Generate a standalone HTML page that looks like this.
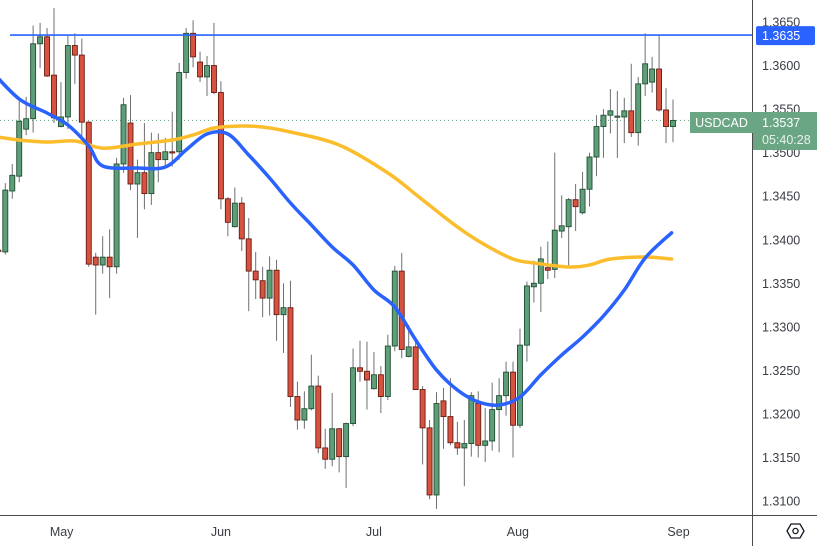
<!DOCTYPE html>
<html><head><meta charset="utf-8"><style>
html,body{margin:0;padding:0;background:#fff;}
svg{display:block;font-family:"Liberation Sans",sans-serif;}
</style></head><body>
<svg id="chart" width="817" height="546" viewBox="0 0 817 546" xmlns="http://www.w3.org/2000/svg">
<g id="plot"></g>
<g id="axes"></g>
</svg>
<script>
const opens=[1.3388,1.3386,1.3456,1.3473,1.3527,1.3539,1.3625,1.3633,1.3589,1.3530,1.3541,1.3623,1.3612,1.3535,1.3380,1.3371,1.3380,1.3369,1.3487,1.3534,1.3464,1.3477,1.3453,1.3500,1.3492,1.3501,1.3501,1.3592,1.3637,1.3604,1.3587,1.3600,1.3569,1.3447,1.3415,1.3442,1.3401,1.3364,1.3353,1.3333,1.3365,1.3314,1.3322,1.3220,1.3193,1.3206,1.3232,1.3161,1.3148,1.3183,1.3151,1.3189,1.3253,1.3249,1.3229,1.3245,1.3220,1.3278,1.3364,1.3266,1.3277,1.3228,1.3184,1.3107,1.3215,1.3197,1.3167,1.3161,1.3166,1.3212,1.3164,1.3169,1.3205,1.3221,1.3248,1.3187,1.3279,1.3346,1.3350,1.3368,1.3366,1.3410,1.3415,1.3446,1.3431,1.3458,1.3495,1.3530,1.3543,1.3541,1.3541,1.3548,1.3523,1.3579,1.3581,1.3596,1.3549,1.3530];
const highs=[1.3391,1.3465,1.3487,1.3563,1.3564,1.3646,1.3649,1.3643,1.3666,1.3581,1.3635,1.3637,1.3631,1.3536,1.3385,1.3404,1.3412,1.3494,1.3563,1.3566,1.3492,1.3534,1.3523,1.3522,1.3517,1.3547,1.3603,1.3643,1.3652,1.3616,1.3611,1.3649,1.3582,1.3449,1.3460,1.3449,1.3425,1.3386,1.3369,1.3381,1.3377,1.3350,1.3353,1.3237,1.3226,1.3268,1.3244,1.3183,1.3224,1.3184,1.3190,1.3275,1.3284,1.3283,1.3271,1.3255,1.3291,1.3370,1.3385,1.3302,1.3287,1.3232,1.3193,1.3225,1.3230,1.3241,1.3191,1.3193,1.3225,1.3226,1.3207,1.3236,1.3241,1.3260,1.3260,1.3298,1.3352,1.3376,1.3392,1.3398,1.3500,1.3451,1.3448,1.3464,1.3478,1.3500,1.3543,1.3550,1.3573,1.3571,1.3563,1.3602,1.3587,1.3637,1.3610,1.3635,1.3574,1.3561];
const lows=[1.3385,1.3383,1.3447,1.3466,1.3520,1.3523,1.3597,1.3587,1.3534,1.3529,1.3527,1.3579,1.3518,1.3369,1.3314,1.3361,1.3333,1.3361,1.3477,1.3457,1.3402,1.3435,1.3440,1.3466,1.3482,1.3484,1.3492,1.3585,1.3598,1.3581,1.3565,1.3567,1.3435,1.3404,1.3414,1.3387,1.3318,1.3332,1.3311,1.3313,1.3284,1.3270,1.3208,1.3182,1.3183,1.3204,1.3155,1.3137,1.3140,1.3133,1.3115,1.3186,1.3237,1.3205,1.3228,1.3201,1.3216,1.3272,1.3264,1.3265,1.3228,1.3142,1.3102,1.3091,1.3160,1.3164,1.3153,1.3117,1.3151,1.3150,1.3145,1.3158,1.3156,1.3198,1.3150,1.3184,1.3260,1.3328,1.3317,1.3355,1.3356,1.3402,1.3370,1.3410,1.3429,1.3438,1.3473,1.3494,1.3522,1.3494,1.3511,1.3518,1.3508,1.3565,1.3569,1.3547,1.3511,1.3512];
const closes=[1.3387,1.3457,1.3474,1.3536,1.3539,1.3625,1.3633,1.3588,1.3540,1.3541,1.3623,1.3612,1.3535,1.3372,1.3371,1.3380,1.3369,1.3487,1.3555,1.3464,1.3477,1.3453,1.3500,1.3492,1.3501,1.3500,1.3592,1.3637,1.3610,1.3587,1.3600,1.3569,1.3447,1.3420,1.3442,1.3401,1.3364,1.3354,1.3333,1.3365,1.3314,1.3322,1.3220,1.3193,1.3206,1.3232,1.3161,1.3148,1.3183,1.3151,1.3189,1.3253,1.3249,1.3239,1.3245,1.3220,1.3278,1.3364,1.3274,1.3277,1.3228,1.3184,1.3107,1.3212,1.3197,1.3167,1.3161,1.3166,1.3221,1.3164,1.3169,1.3205,1.3221,1.3248,1.3187,1.3279,1.3347,1.3350,1.3378,1.3365,1.3411,1.3416,1.3446,1.3438,1.3458,1.3495,1.3530,1.3543,1.3548,1.3542,1.3548,1.3523,1.3579,1.3602,1.3596,1.3549,1.3530,1.3537];
const fastMaIdx=[-1,3,7,10,13,15,20,24,27,30,33,36,39,42,45,48,51,54,57,60,63,66,69,72,75,78,81,84,87,90,93,96.8];
const fastMaVal=[1.35938,1.35616,1.35455,1.35318,1.35076,1.34847,1.34824,1.34835,1.35031,1.35214,1.35214,1.34973,1.34709,1.34422,1.34170,1.33917,1.33710,1.33423,1.33228,1.32849,1.32505,1.32275,1.32138,1.32103,1.32195,1.32448,1.32677,1.32884,1.33125,1.33423,1.33791,1.34080];
const slowMaIdx=[-1,3,7,11,14,16,20,25,28,31,35,38,42,49,56,61,66,70,74,77,82,85,88,93,96.8];
const slowMaVal=[1.35191,1.35145,1.35122,1.35134,1.35065,1.35053,1.35099,1.35145,1.35203,1.35283,1.35306,1.35295,1.35237,1.35088,1.34767,1.34457,1.34147,1.33940,1.33779,1.33733,1.33687,1.33710,1.33779,1.33802,1.33779];
const priceTicks=[1.3650,1.3600,1.3550,1.3500,1.3450,1.3400,1.3350,1.3300,1.3250,1.3200,1.3150,1.3100];
const monthLabels=["May","Jun","Jul","Aug","Sep"];
const monthIdx=[9.1,32,54,74.7,97.8];
const resistance=1.3635;
const lastPrice=1.3537;

const NS="http://www.w3.org/2000/svg";
function y(p){return 22+(1.3650-p)*8710;}
function x(i){return -1.65+6.955*i;}
const plot=document.getElementById('plot'), axes=document.getElementById('axes');
function mk(tag,attrs,parent){const e=document.createElementNS(NS,tag);for(const k in attrs)e.setAttribute(k,attrs[k]);parent.appendChild(e);return e;}

let dl=mk('line',{x1:0,x2:690,y1:y(lastPrice),y2:y(lastPrice),stroke:'#5a9e78','stroke-width':1,'stroke-dasharray':'1 3'},plot);



for(let i=0;i<opens.length;i++){
  const up=closes[i]>=opens[i];
  const g=mk('g',{},plot);
  
  
  const cx=x(i);
  mk('line',{x1:cx,x2:cx,y1:y(highs[i]),y2:y(lows[i]),stroke:'#6f6f72','stroke-width':1},g);
  const top=y(Math.max(opens[i],closes[i])),bot=y(Math.min(opens[i],closes[i]));
  mk('rect',{x:cx-2.5,y:top,width:5,height:Math.max(1.2,bot-top),fill:up?'#5f9e78':'#d65340',stroke:up?'#1f4f33':'#6a1b12','stroke-width':0.9},g);
}

function smooth(idx,val){
  const pts=idx.map((d,k)=>[x(d),y(val[k])]);
  let d='M'+pts[0][0]+','+pts[0][1];
  for(let k=0;k<pts.length-1;k++){
    const p0=pts[Math.max(0,k-1)],p1=pts[k],p2=pts[k+1],p3=pts[Math.min(pts.length-1,k+2)];
    const c1=[p1[0]+(p2[0]-p0[0])/6,p1[1]+(p2[1]-p0[1])/6];
    const c2=[p2[0]-(p3[0]-p1[0])/6,p2[1]-(p3[1]-p1[1])/6];
    d+=' C'+c1[0].toFixed(1)+','+c1[1].toFixed(1)+' '+c2[0].toFixed(1)+','+c2[1].toFixed(1)+' '+p2[0].toFixed(1)+','+p2[1].toFixed(1);
  }
  return d;
}
let sm=mk('path',{d:smooth(slowMaIdx,slowMaVal),fill:'none',stroke:'#fbbd2c','stroke-width':3.5,'stroke-linecap':'round'},plot);


let fm=mk('path',{d:smooth(fastMaIdx,fastMaVal),fill:'none',stroke:'#2962ff','stroke-width':3.5,'stroke-linecap':'round'},plot);



let rl=mk('line',{x1:10,x2:753,y1:y(resistance),y2:y(resistance),stroke:'#2962ff','stroke-width':1.6},plot);



mk('line',{x1:752.5,x2:752.5,y1:0,y2:546,stroke:'#4a4a4a','stroke-width':1},axes);
mk('line',{x1:0,x2:817,y1:515.5,y2:515.5,stroke:'#4a4a4a','stroke-width':1},axes);
for(let k=0;k<priceTicks.length;k++){
  const t=mk('text',{x:762,y:y(priceTicks[k])+4.5,'font-size':12.5,fill:'#3a3d45'},axes);
  t.textContent=priceTicks[k].toFixed(4);
  
  
}
for(let k=0;k<monthLabels.length;k++){
  const t=mk('text',{x:x(monthIdx[k]),y:536,'font-size':12.5,fill:'#3a3d45','text-anchor':'middle'},axes);
  t.textContent=monthLabels[k];
  
  
}
let rb=mk('g',{},axes);


mk('rect',{x:756,y:y(resistance)-9,width:59,height:19,rx:2,fill:'#2962ff'},rb);
let rt=mk('text',{x:762,y:y(resistance)+5,'font-size':12.5,fill:'#fff'},rb);rt.textContent='1.3635';
let sb=mk('g',{},axes);


mk('rect',{x:690,y:112,width:63,height:21,fill:'#6aa584'},sb);
let st=mk('text',{x:721.5,y:127,'font-size':12.5,fill:'#fff','text-anchor':'middle'},sb);st.textContent='USDCAD';
let pb=mk('g',{},axes);


mk('rect',{x:753,y:112,width:64,height:38,fill:'#6aa584'},pb);
let pt=mk('text',{x:762,y:127,'font-size':12.5,fill:'#fff'},pb);pt.textContent='1.3537';
let ct=mk('text',{x:762,y:144,'font-size':12.5,fill:'#e8f2ec'},pb);ct.textContent='05:40:28';
let si=mk('g',{},axes);


mk('polygon',{points:'787,531 791,524 800,524 804,531 800,538 791,538',fill:'none',stroke:'#131722','stroke-width':1.3},si);
mk('circle',{cx:795.5,cy:531,r:2.6,fill:'none',stroke:'#131722','stroke-width':1.3},si);
</script>
</body></html>
